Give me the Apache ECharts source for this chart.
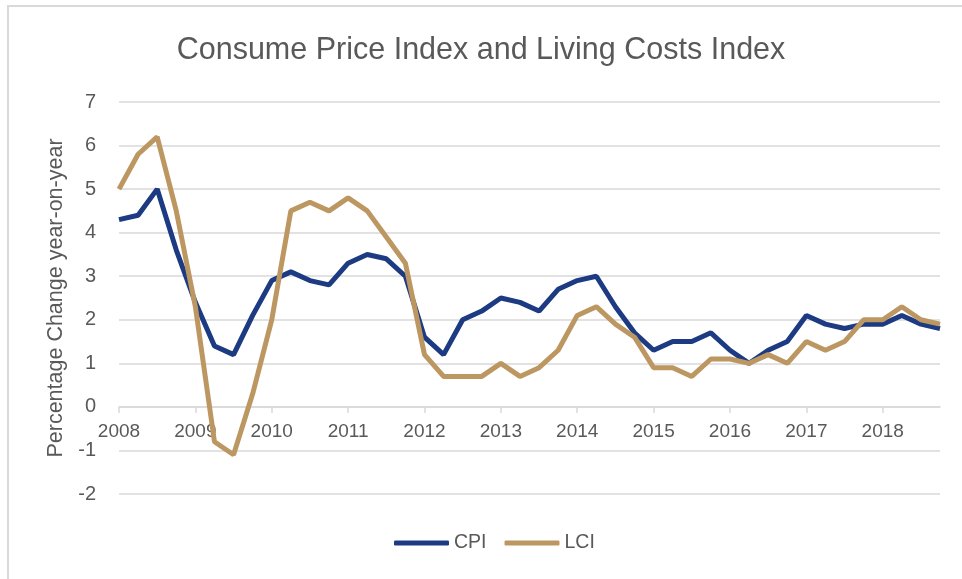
<!DOCTYPE html>
<html>
<head>
<meta charset="utf-8">
<script src="https://cdn.jsdelivr.net/npm/echarts@6/dist/echarts.min.js"></script>
<style>
    html, body {margin: 0; padding: 0; background: #fff;}
    #chart {width: 962px; height: 579px;}
</style>
</head>
<body>
<div id="chart"></div>
<script>
    // quarterly, 2008 Q1 .. 2018 Q4
    const quarters = [];
    const years = ['2008', '2009', '2010', '2011', '2012', '2013', '2014', '2015', '2016', '2017', '2018'];
    years.forEach(function (y) {
        quarters.push(y, y + ' Q2', y + ' Q3', y + ' Q4');
    });
    const cpi = [4.3, 4.4, 5.0, 3.6, 2.4, 1.4, 1.2, 2.1, 2.9, 3.1, 2.9, 2.8,
        3.3, 3.5, 3.4, 3.0, 1.6, 1.2, 2.0, 2.2, 2.5, 2.4, 2.2, 2.7,
        2.9, 3.0, 2.3, 1.7, 1.3, 1.5, 1.5, 1.7, 1.3, 1.0, 1.3, 1.5,
        2.1, 1.9, 1.8, 1.9, 1.9, 2.1, 1.9, 1.8];
    const lci = [5.0, 5.8, 6.2, 4.5, 2.3, -0.8, -1.1, 0.3, 2.0, 4.5, 4.7, 4.5,
        4.8, 4.5, 3.9, 3.3, 1.2, 0.7, 0.7, 0.7, 1.0, 0.7, 0.9, 1.3,
        2.1, 2.3, 1.9, 1.6, 0.9, 0.9, 0.7, 1.1, 1.1, 1.0, 1.2, 1.0,
        1.5, 1.3, 1.5, 2.0, 2.0, 2.3, 2.0, 1.9];

    const font = "'Liberation Sans', Arial, sans-serif";
    const myChart = echarts.init(document.getElementById('chart'));
    const option = {
        animation: false,
        backgroundColor: '#fff',
        textStyle: {fontFamily: font},
        title: {
            text: 'Consume Price Index and Living Costs Index',
            left: 'center',
            top: 30,
            textStyle: {fontFamily: font, fontSize: 30.5, fontWeight: 'normal', color: '#595959'}
        },
        //外框
        graphic: [{
            type: 'rect',
            shape: {x: 8, y: 6, width: 1000, height: 700},
            style: {fill: 'none', stroke: '#d9d9d9', lineWidth: 2},
            silent: true
        }],
        legend: {
            bottom: 21,
            left: 389,
            itemWidth: 55,
            itemHeight: 5,
            itemGap: 18,
            icon: 'roundRect',
            textStyle: {fontFamily: font, fontSize: 19.5, color: '#595959'},
            data: ['CPI', 'LCI']
        },
        grid: {left: 119, right: 22, top: 102, bottom: 85},
        xAxis: {
            type: 'category',
            data: quarters,
            boundaryGap: false,
            position: 'bottom',
            offset: -87,
            axisLine: {onZero: false, lineStyle: {color: '#d9d9d9', width: 1.5}},
            axisTick: {show: true, interval: 3, length: 6, lineStyle: {color: '#d9d9d9', width: 1.5}},
            axisLabel: {
                interval: 3, margin: 15, fontSize: 19, color: '#595959', fontFamily: font,
                formatter: function (v) { return v.length === 4 ? v : ''; }
            },
            splitLine: {show: false}
        },
        yAxis: {
            type: 'value',
            min: -2,
            max: 7,
            interval: 1,
            name: 'Percentage Change year-on-year',
            nameLocation: 'middle',
            nameGap: 50,
            nameTextStyle: {fontFamily: font, fontSize: 21.5, color: '#595959'},
            axisLine: {show: false},
            axisTick: {show: false},
            axisLabel: {margin: 23, fontSize: 20, color: '#595959', fontFamily: font},
            splitLine: {lineStyle: {color: '#d9d9d9', width: 1.5}}
        },
        series: [
            {name: 'CPI', type: 'line', data: cpi, symbol: 'none', color: '#1c3b82',
                lineStyle: {width: 5, color: '#1c3b82'}},
            {name: 'LCI', type: 'line', data: lci, symbol: 'none', color: '#bc9762',
                lineStyle: {width: 5, color: '#bc9762'}}
        ]
    };
    myChart.setOption(option);
</script>
</body>
</html>
